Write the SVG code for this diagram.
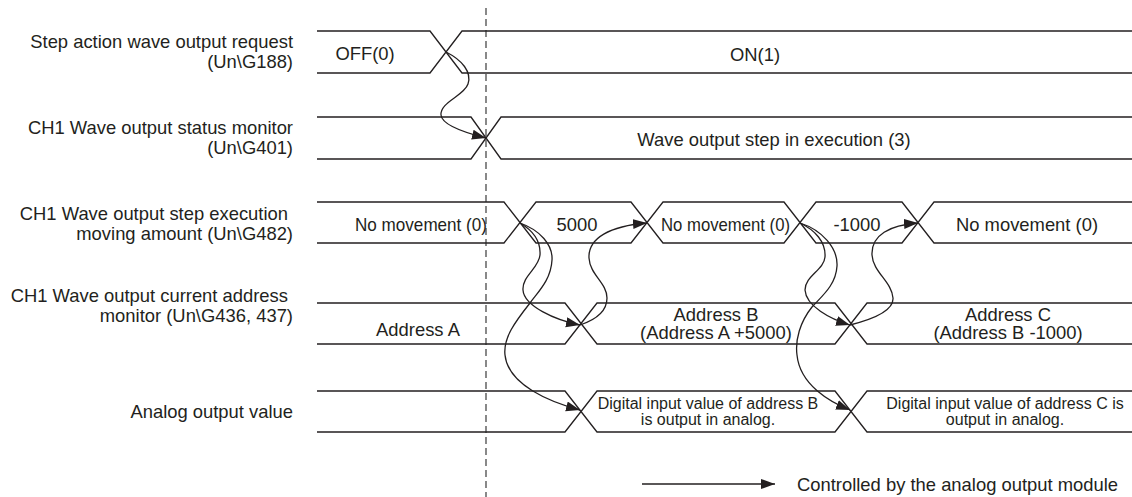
<svg xmlns="http://www.w3.org/2000/svg" width="1132" height="497" viewBox="0 0 1132 497">
<style>
.t{font-family:"Liberation Sans",Arial,sans-serif;font-size:18.4px;fill:#231f20}
.s{font-family:"Liberation Sans",Arial,sans-serif;font-size:16px;fill:#231f20}
.w{fill:none;stroke:#231f20;stroke-width:1.3}
.c{fill:none;stroke:#231f20;stroke-width:1.3}
.m{text-anchor:middle}
.e{text-anchor:end}
</style>
<defs>
<marker id="ah" markerUnits="userSpaceOnUse" markerWidth="15" markerHeight="11" refX="14" refY="5" orient="auto">
<path d="M0,0 L14,5 L0,10 Z" fill="#231f20"/>
</marker>
</defs>
<rect width="1132" height="497" fill="#ffffff"/>
<line x1="486" y1="8" x2="486" y2="497" stroke="#4a4a4a" stroke-width="1.3" stroke-dasharray="7,4"/>
<g id="labels">
<text class="t e" x="293" y="48">Step action wave output request</text>
<text class="t e" x="293" y="67.5">(Un\G188)</text>
<text class="t e" x="293" y="134">CH1 Wave output status monitor</text>
<text class="t e" x="293" y="153.5">(Un\G401)</text>
<text class="t e" x="288" y="220">CH1 Wave output step execution</text>
<text class="t e" x="293" y="239.5">moving amount (Un\G482)</text>
<text class="t e" x="288" y="302">CH1 Wave output current address</text>
<text class="t e" x="293" y="321.5">monitor (Un\G436, 437)</text>
<text class="t e" x="293" y="418">Analog output value</text>
</g>
<g id="row1">
<path class="w" d="M317,31 H430 L462,73 H1132 M317,73 H430 L462,31 H1132"/>
<text class="t m" x="365" y="60">OFF(0)</text>
<text class="t m" x="755" y="60.5">ON(1)</text>
</g>
<g id="row2">
<path class="w" d="M317,117 H471 L501,159 H1132 M317,159 H471 L501,117 H1132"/>
<text class="t m" x="774" y="146">Wave output step in execution (3)</text>
</g>
<g id="row3">
<path class="w" d="M317,202 H504 L536,243 H631 L663,202 H784 L816,243 H902 L934,202 H1132 M317,243 H504 L536,202 H631 L663,243 H784 L816,202 H902 L934,243 H1132"/>
<text class="t m" x="421" y="230.5" textLength="132" lengthAdjust="spacingAndGlyphs">No movement (0)</text>
<text class="t m" x="577" y="231">5000</text>
<text class="t m" x="725.5" y="230.5" textLength="129" lengthAdjust="spacingAndGlyphs">No movement (0)</text>
<text class="t m" x="857" y="231">-1000</text>
<text class="t m" x="1027" y="230.5">No movement (0)</text>
</g>
<g id="row4">
<path class="w" d="M317,303 H565 L597,344 H835 L867,303 H1132 M317,344 H565 L597,303 H835 L867,344 H1132"/>
<text class="t m" x="418" y="336">Address A</text>
<text class="t m" x="716" y="321">Address B</text>
<text class="t m" x="716" y="338.5">(Address A +5000)</text>
<text class="t m" x="1008" y="321">Address C</text>
<text class="t m" x="1008" y="338.5">(Address B -1000)</text>
</g>
<g id="row5">
<path class="w" d="M317,391 H565 L597,432 H835 L867,391 H1132 M317,432 H565 L597,391 H835 L867,432 H1132"/>
<text class="s m" x="708" y="409">Digital input value of address B</text>
<text class="s m" x="708" y="425">is output in analog.</text>
<text class="s m" x="1005" y="409">Digital input value of address C is</text>
<text class="s m" x="1005" y="425">output in analog.</text>
</g>
<g id="connectors">
<path class="c" marker-end="url(#ah)" d="M446,52 C462,60 472,72 468,84 C464,96 440,102 441,115 C442,126 470,134 486,138"/>
<path class="c" marker-end="url(#ah)" d="M520,223 C532,230 541,240 540,255 C539,268 522,276 523,290 C524,306 555,320 580,325"/>
<path class="c" marker-end="url(#ah)" d="M520,223 C540,230 553,245 552,260 C551,280 538,292 530,303 C515,322 503,338 505,355 C508,385 550,402 580,410"/>
<path class="c" marker-end="url(#ah)" d="M580,325 C595,320 607,312 607,298 C607,283 590,275 589,258 C588,238 610,226 647,223"/>
<path class="c" marker-end="url(#ah)" d="M800,223 C815,230 826,242 825,257 C824,270 805,276 805,290 C806,306 830,319 850,325"/>
<path class="c" marker-end="url(#ah)" d="M800,223 C822,230 838,248 837,266 C836,285 822,296 812,307 C800,322 795,340 797,355 C800,385 830,402 850,410"/>
<path class="c" marker-end="url(#ah)" d="M850,325 C870,320 894,312 893,298 C892,282 873,272 872,255 C871,235 890,225 918,223"/>
</g>
<g id="legend">
<line class="c" x1="642" y1="484" x2="775" y2="484" marker-end="url(#ah)"/>
<text class="t" x="797" y="490.5">Controlled by the analog output module</text>
</g>
</svg>
